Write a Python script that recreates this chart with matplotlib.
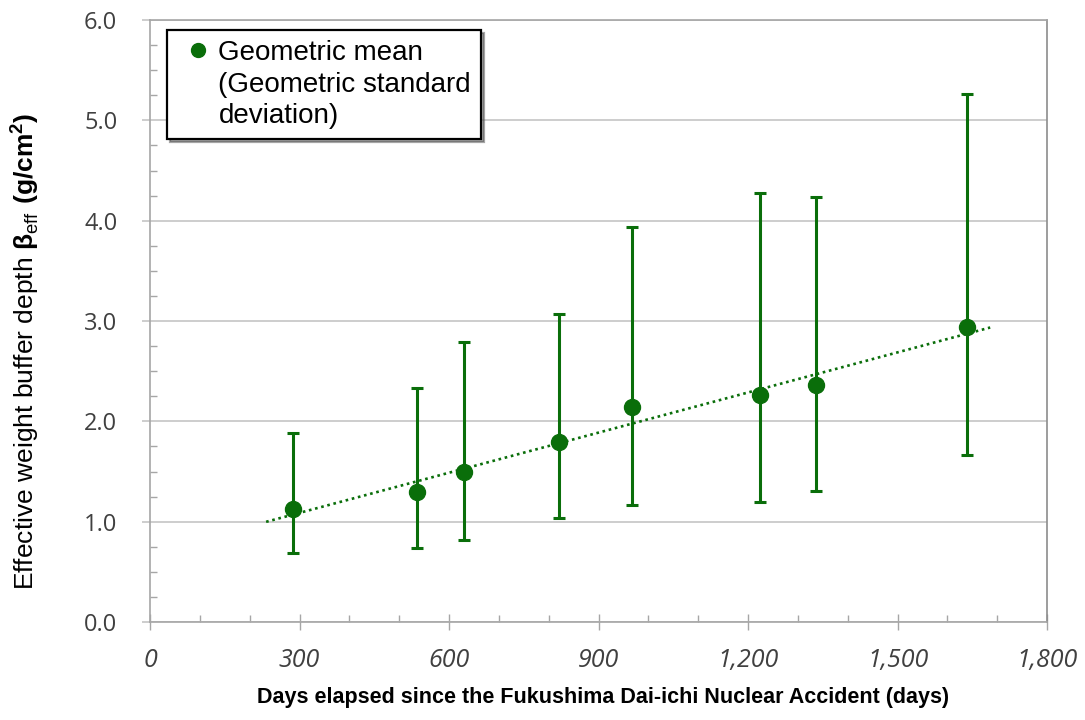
import numpy as np
import matplotlib
matplotlib.use("Agg")
import matplotlib.pyplot as plt
from matplotlib.lines import Line2D
from matplotlib.ticker import MultipleLocator, FuncFormatter

# ── Data ──────────────────────────────────────────────────────
days       = [286, 535, 631, 821, 967, 1224, 1336, 1640]
geo_mean   = [1.13, 1.30, 1.50, 1.79, 2.14, 2.26, 2.36, 2.94]
err_upper  = [1.88, 2.33, 2.79, 3.07, 3.94, 4.28, 4.24, 5.26]
err_lower  = [0.69, 0.74, 0.82, 1.04, 1.17, 1.20, 1.31, 1.66]
trend_days = [233, 1686]

GREEN = '#0a6e0a'
GRID  = '#c0c0c0'
SPINE = '#a6a6a6'
TXT   = '#404040'

plt.rcParams['mathtext.fontset'] = 'custom'
plt.rcParams['mathtext.rm'] = 'Liberation Sans'
plt.rcParams['mathtext.bf'] = 'Liberation Sans:bold'

fig = plt.figure(figsize=(10.85, 7.2), dpi=100, facecolor='white')
ax = fig.add_axes([150 / 1085, 98 / 720, 897 / 1085, 602 / 720])

x = np.array(days)
m = np.array(geo_mean)
yerr = [m - np.array(err_lower), np.array(err_upper) - m]

# ── Linear trend of the geometric means ───────────────────────
slope, icpt = np.polyfit(x, m, 1)
tx = np.array(trend_days)
ax.plot(tx, slope * tx + icpt, color=GREEN, lw=1.9,
        ls=(0, (1, 1.4)), zorder=2)

ax.errorbar(x, m, yerr=yerr, fmt='o', color=GREEN, ms=11.5,
            elinewidth=2.2, capsize=4.5, capthick=2.2, zorder=3)

# ── Axes styling ──────────────────────────────────────────────
ax.set_xlim(0, 1800)
ax.set_ylim(0, 6.0)
ax.xaxis.set_major_locator(MultipleLocator(300))
ax.xaxis.set_minor_locator(MultipleLocator(100))
ax.yaxis.set_major_locator(MultipleLocator(1.0))
ax.yaxis.set_minor_locator(MultipleLocator(0.25))
ax.xaxis.set_major_formatter(FuncFormatter(lambda v, p: f'{int(v):,}'))
ax.yaxis.set_major_formatter(FuncFormatter(lambda v, p: f'{v:.1f}'))

ax.grid(True, axis='y', which='major', color=GRID, lw=1.1, zorder=0)
ax.set_axisbelow(True)
for s in ax.spines.values():
    s.set_color(SPINE)
    s.set_linewidth(1.2)
ax.spines['right'].set_color('#8c8c8c')

ax.tick_params(axis='y', which='major', direction='out', length=5.5,
               color=GRID, width=1.1, pad=18, labelsize=17, labelcolor=TXT)
ax.tick_params(axis='y', which='minor', direction='in', length=5,
               color=SPINE, width=1.0)
ax.tick_params(axis='x', which='major', direction='inout', length=12,
               color=SPINE, width=1.0, pad=13, labelsize=18, labelcolor=TXT)
ax.tick_params(axis='x', which='minor', direction='in', length=5,
               color=SPINE, width=1.0)
for lab in ax.get_xticklabels() + ax.get_yticklabels():
    lab.set_fontfamily('Open Sans')
for lab in ax.get_xticklabels():
    lab.set_fontstyle('italic')

ax.set_ylabel(r'Effective weight buffer depth $\mathbf{\beta}_{\mathrm{eff}}\ '
              r'\mathbf{(g/cm}^{\mathbf{2}}\mathbf{)}$',
              fontsize=19, family='Liberation Sans')
ax.yaxis.set_label_coords(-0.121, 0.449)
ax.set_xlabel('Days elapsed since the Fukushima Dai-ichi Nuclear Accident (days)',
              fontsize=15.5, fontweight='bold', family='Liberation Sans')
ax.xaxis.set_label_coords(0.505, -0.108)

# ── Legend ────────────────────────────────────────────────────
handles = [Line2D([], [], ls='none', marker='o', color=GREEN, ms=10),
           Line2D([], [], ls='none'),
           Line2D([], [], ls='none')]
labels = ['Geometric mean', '(Geometric standard', 'deviation)']
leg = ax.legend(handles, labels, loc='upper left',
                bbox_to_anchor=(0.019, 0.983), borderaxespad=0,
                fancybox=False, shadow=True, frameon=True,
                prop={'family': 'Liberation Sans', 'size': 20},
                handlelength=1.5, handletextpad=0.0, labelspacing=0.2,
                borderpad=0.35)
leg.get_frame().set_edgecolor('black')
leg.get_frame().set_linewidth(1.6)

fig.savefig('out.png', dpi=100, facecolor='white')
